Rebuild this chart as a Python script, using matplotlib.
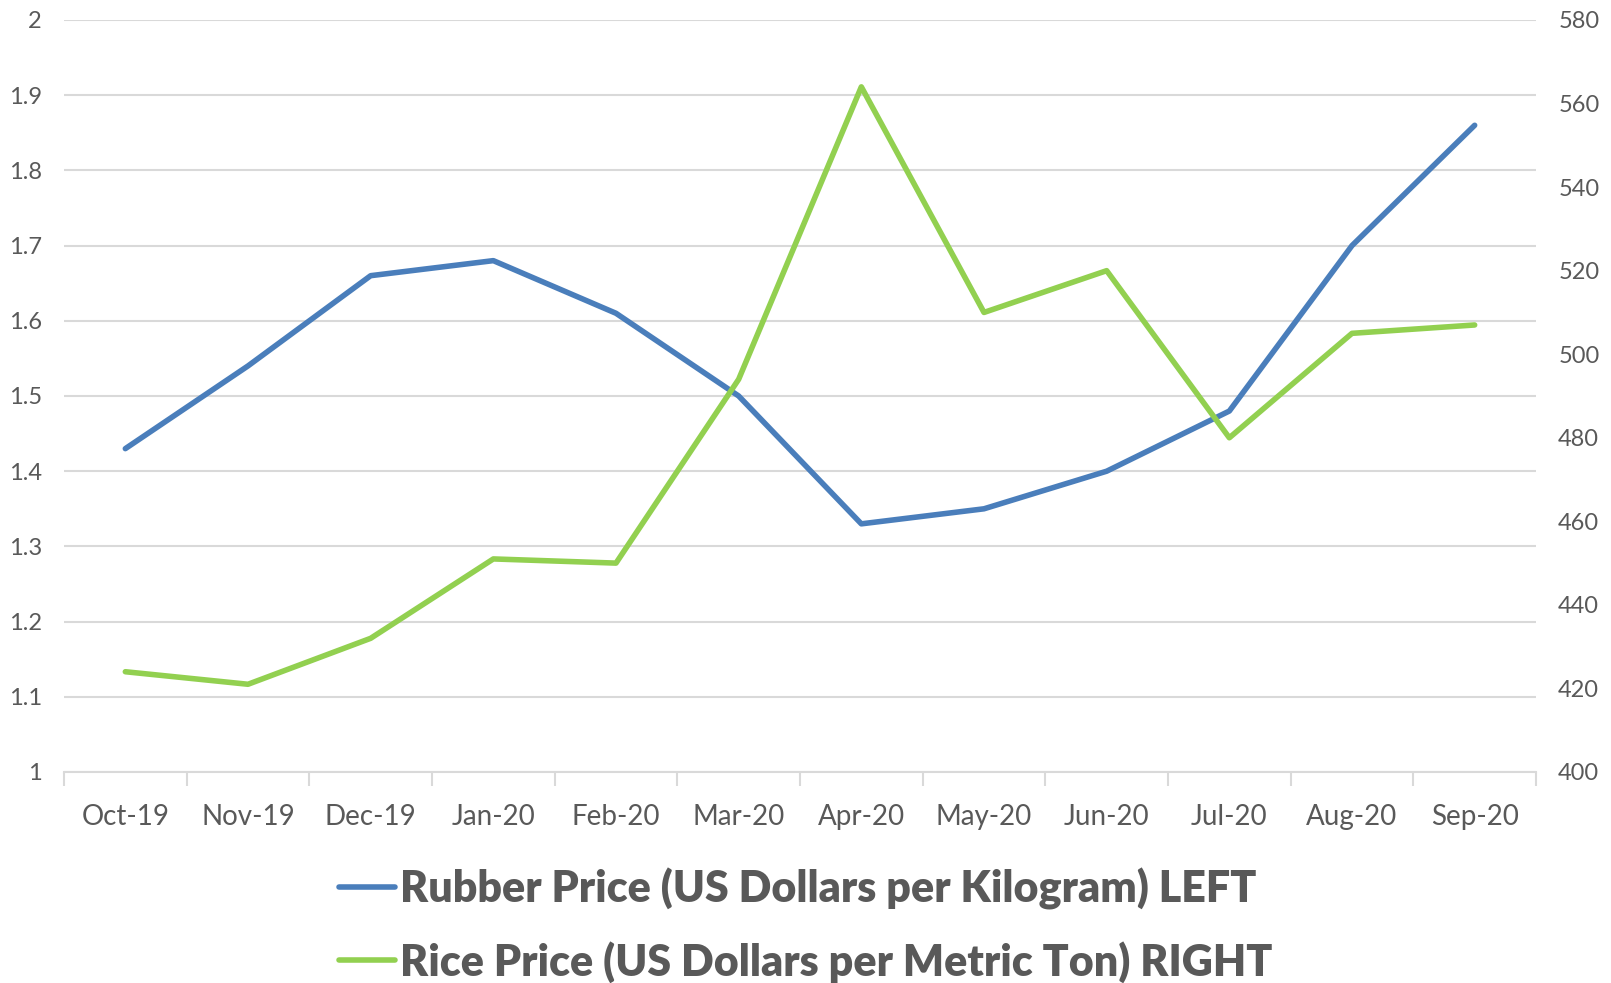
import matplotlib
matplotlib.use("Agg")
import matplotlib.pyplot as plt
from matplotlib.ticker import FixedLocator, NullFormatter
from matplotlib.lines import Line2D

months = ["Oct-19", "Nov-19", "Dec-19", "Jan-20", "Feb-20", "Mar-20",
          "Apr-20", "May-20", "Jun-20", "Jul-20", "Aug-20", "Sep-20"]
rubber = [1.43, 1.54, 1.66, 1.68, 1.61, 1.50, 1.33, 1.35, 1.40, 1.48, 1.70, 1.86]
rice = [424, 421, 432, 451, 450, 494, 564, 510, 520, 480, 505, 507]
left_ticks = [1, 1.1, 1.2, 1.3, 1.4, 1.5, 1.6, 1.7, 1.8, 1.9, 2]
left_labels = ["1", "1.1", "1.2", "1.3", "1.4", "1.5", "1.6", "1.7", "1.8", "1.9", "2"]
right_ticks = [400, 420, 440, 460, 480, 500, 520, 540, 560, 580]
rubber_label = "Rubber Price (US Dollars per Kilogram) LEFT"
rice_label = "Rice Price (US Dollars per Metric Ton) RIGHT"

FONT = "Lato"
TXT = "#595959"
GRID = "#d9d9d9"
BLUE = "#4a7ebb"
GREEN = "#92d050"

fig = plt.figure(figsize=(16.11, 9.83), dpi=100)
ax = fig.add_axes([64/1611, 1-772/983, (1536-64)/1611, (772-20)/983])
ax2 = ax.twinx()

x = list(range(len(months)))
ax.plot(x, rubber, color=BLUE, lw=4, solid_capstyle="round", solid_joinstyle="round", zorder=3)
ax2.plot(x, rice, color=GREEN, lw=4, solid_capstyle="round", solid_joinstyle="round", zorder=3)

ax.set_xlim(-0.5, len(months) - 0.5)
ax.set_ylim(1, 2)
ax2.set_ylim(400, 580)

ax.set_yticks(left_ticks)
ax.set_yticklabels(left_labels)
ax2.set_yticks(right_ticks)
ax2.set_yticklabels([str(v) for v in right_ticks])

for a in (ax, ax2):
    for s in a.spines.values():
        s.set_visible(False)
ax.spines["bottom"].set_visible(True)
ax.spines["bottom"].set_color(GRID)
ax.spines["bottom"].set_linewidth(1.5)

ax.yaxis.grid(True, color=GRID, lw=1.5)
ax.set_axisbelow(True)
ax.tick_params(axis="y", length=0, pad=16, labelsize=17, labelcolor=TXT)
ax2.tick_params(axis="y", length=0, pad=16, labelsize=17, labelcolor=TXT)

ax.xaxis.set_major_locator(FixedLocator(x))
ax.set_xticklabels(months)
ax.xaxis.set_minor_locator(FixedLocator([i - 0.5 for i in range(len(months) + 1)]))
ax.xaxis.set_minor_formatter(NullFormatter())
ax.tick_params(axis="x", which="major", length=0, pad=23, labelsize=20, labelcolor=TXT)
ax.tick_params(axis="x", which="minor", length=10, width=1.5, color=GRID)

for lab in ax.get_xticklabels() + ax.get_yticklabels() + ax2.get_yticklabels():
    lab.set_fontfamily(FONT)

handles = [Line2D([], [], color=BLUE, lw=4, solid_capstyle="round"),
           Line2D([], [], color=GREEN, lw=4, solid_capstyle="round")]
leg = fig.legend(handles, [rubber_label, rice_label], loc="center",
                 bbox_to_anchor=(0.5, 1 - 925/983), frameon=False,
                 handlelength=1.3, handletextpad=0.12, labelspacing=0.72,
                 prop={"family": FONT, "weight": "heavy", "size": 31})
for t in leg.get_texts():
    t.set_color(TXT)

fig.savefig("out.png", dpi=100)
